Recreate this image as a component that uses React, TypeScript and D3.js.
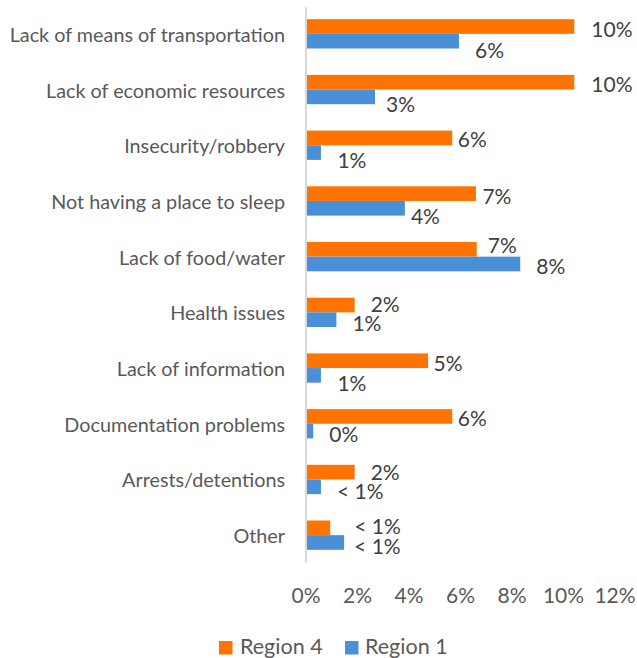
import { useEffect, useRef } from 'react'
import * as d3 from 'd3'

const categories = [
  'Lack of means of transportation',
  'Lack of economic resources',
  'Insecurity/robbery',
  'Not having a place to sleep',
  'Lack of food/water',
  'Health issues',
  'Lack of information',
  'Documentation problems',
  'Arrests/detentions',
  'Other',
]
const seriesNames = ['Region 4', 'Region 1']
const region4 = [10.42, 10.42, 5.68, 6.6, 6.63, 1.89, 4.74, 5.68, 1.89, 0.94]
const region1 = [5.94, 2.68, 0.58, 3.84, 8.32, 1.18, 0.58, 0.28, 0.58, 1.48]
const region4Labels = ['10%', '10%', '6%', '7%', '7%', '2%', '5%', '6%', '2%', '< 1%']
const region1Labels = ['6%', '3%', '1%', '4%', '8%', '1%', '1%', '0%', '< 1%', '< 1%']
const xTicks = [0, 2, 4, 6, 8, 10, 12]

// data label nudges (dx after bar end, dy from bar middle), as placed in the original
const region4Dx = [17, 17, 5.5, 6.5, 11, 16, 5.5, 5.5, 16, 24]
const region1Dx = [16, 11, 16.5, 6, 16, 16, 16.5, 16, 16, 10]
const region4Dy = [2, 1, 1, 1.5, -5, -1.5, 2, 1.5, -0.5, -2]
const region1Dy = [8, 7, 7, 7, 1.5, 3, 7, 2, 4, 3]

const COLORS = ['#FF7400', '#4A90D9']
const FONT = 'Lato, "Open Sans", sans-serif'

export default function App() {
  const svgRef = useRef<SVGSVGElement>(null)

  useEffect(() => {
    if (!svgRef.current) return
    const width = 637
    const height = 658

    const svg = d3.select(svgRef.current)
    svg.selectAll('*').remove()
    svg.attr('width', width).attr('height', height)

    const x = d3.scaleLinear().domain([0, 12]).range([306, 615])
    const y = d3.scaleBand<string>()
      .domain(categories)
      .range([6, 563])
      .paddingInner(0.474)
      .paddingOuter(0.237)
    const sub = d3.scaleBand<string>().domain(seriesNames).range([0, y.bandwidth()])

    const series = [
      { name: seriesNames[0], values: region4, labels: region4Labels, dx: region4Dx, dy: region4Dy },
      { name: seriesNames[1], values: region1, labels: region1Labels, dx: region1Dx, dy: region1Dy },
    ]

    // category labels
    svg.append('g')
      .selectAll('text')
      .data(categories)
      .enter().append('text')
      .attr('x', 285)
      .attr('y', d => (y(d) as number) + y.bandwidth() / 2)
      .attr('text-anchor', 'end')
      .attr('dominant-baseline', 'central')
      .attr('fill', '#595959')
      .attr('font-family', FONT)
      .attr('font-size', '19.8px')
      .text(d => d)

    series.forEach((s, si) => {
      const g = svg.append('g')
      g.selectAll('rect')
        .data(s.values)
        .enter().append('rect')
        .attr('x', x(0))
        .attr('y', (_d, i) => (y(categories[i]) as number) + (sub(s.name) as number))
        .attr('width', d => x(d) - x(0))
        .attr('height', sub.bandwidth())
        .attr('fill', COLORS[si])

      g.selectAll('text')
        .data(s.values)
        .enter().append('text')
        .attr('x', (d, i) => x(d) + s.dx[i])
        .attr('y', (_d, i) => (y(categories[i]) as number) + (sub(s.name) as number) + sub.bandwidth() / 2 + s.dy[i])
        .attr('dominant-baseline', 'central')
        .attr('fill', '#404040')
        .attr('font-family', FONT)
        .attr('font-size', '21px')
        .text((_d, i) => s.labels[i])
    })

    // vertical axis line
    svg.append('line')
      .attr('x1', x(0)).attr('x2', x(0))
      .attr('y1', 7).attr('y2', 563)
      .attr('stroke', '#D9D9D9')
      .attr('stroke-width', 2)

    // x tick labels
    svg.append('g')
      .selectAll('text')
      .data(xTicks)
      .enter().append('text')
      .attr('x', d => x(d))
      .attr('y', 594)
      .attr('text-anchor', 'middle')
      .attr('dominant-baseline', 'central')
      .attr('fill', '#595959')
      .attr('font-family', FONT)
      .attr('font-size', '21px')
      .text(d => `${d}%`)

    // legend
    const legend = svg.append('g')
    const legendItems = [
      { name: seriesNames[0], sx: 219, tx: 240 },
      { name: seriesNames[1], sx: 345, tx: 365 },
    ]
    legendItems.forEach((it, i) => {
      legend.append('rect')
        .attr('x', it.sx).attr('y', 641)
        .attr('width', 13.5).attr('height', 13.5)
        .attr('fill', COLORS[i])
      legend.append('text')
        .attr('x', it.tx).attr('y', 654)
        .attr('fill', '#595959')
        .attr('font-family', FONT)
        .attr('font-size', '21.5px')
        .text(it.name)
    })
  }, [])

  return (
    <svg ref={svgRef} style={{ position: 'absolute', left: 0, top: 0, background: '#fff' }}></svg>
  )
}
